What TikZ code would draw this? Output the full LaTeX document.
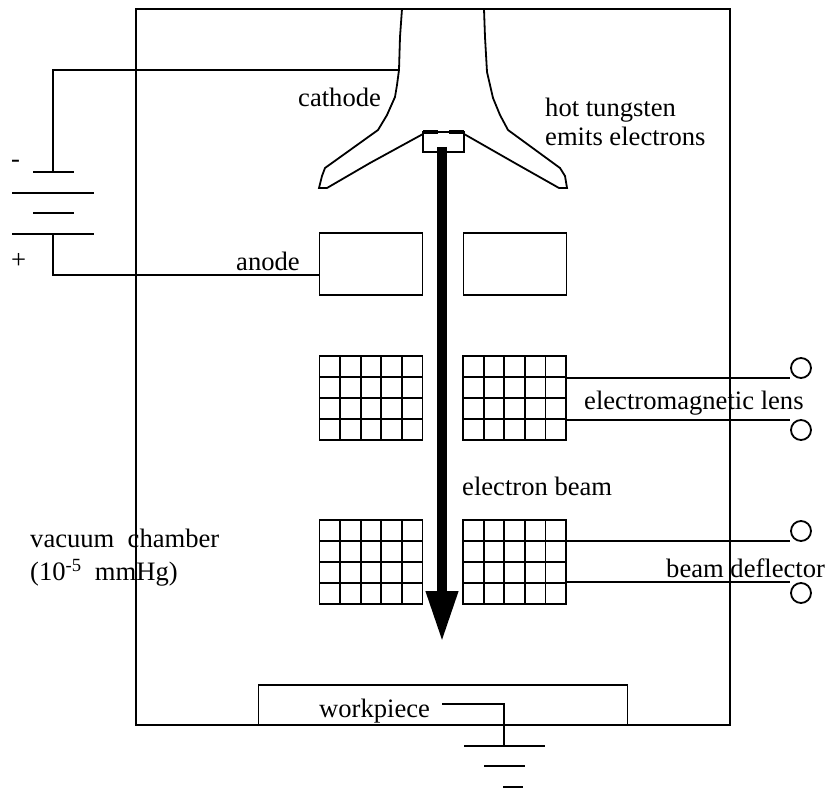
\documentclass[tikz,border=0pt]{standalone}
\usepackage{fontspec}
\setmainfont{Liberation Serif}
\usetikzlibrary{arrows.meta,calc}
\tikzset{
  wire/.style={line width=1.8pt},
  label/.style={anchor=west, inner sep=0pt, font=\fontsize{26.6}{29}\selectfont, align=left},
  boxpart/.style={draw, line width=1.8pt, inner sep=0pt, outer sep=0pt},
  coilbox/.style={boxpart, minimum width=103pt, minimum height=84pt},
  anodebox/.style={boxpart, minimum width=103pt, minimum height=62pt},
  terminal/.style={draw, circle, line width=1.8pt, inner sep=0pt, outer sep=0pt, minimum size=20pt},
  plate/.style={fill=black, inner sep=0pt, outer sep=0pt, minimum height=1.8pt}
}
\begin{document}
\begin{tikzpicture}[x=1pt,y=-1pt]
\useasboundingbox (0,0) rectangle (830,791);

% chamber and workpiece
\node[boxpart, minimum width=594pt, minimum height=716pt] (chamber) at (433,367) {};
\node[boxpart, minimum width=369pt, minimum height=40pt] (workpiece) at (443,705) {};

% cathode
\draw[wire] (402,9) -- (400,37) -- (399,70) -- (397,85) -- (395,97) -- (387,115) -- (378,130) -- (325,168) -- (322,176) -- (319,188) -- (327,188) -- (370,163) -- (423,134);
\draw[wire] (484,9) -- (485,37) -- (487,72) -- (490,85) -- (493,98) -- (500,115) -- (508,130) -- (560,168) -- (565,176) -- (567,188) -- (559,188) -- (513,162) -- (464,134);
\coordinate (cathodewire) at (399,70);
\node[boxpart, minimum width=41pt, minimum height=20pt] (filament) at (443.5,142) {};
\draw[line width=3.5pt] (filament.north west) -- ++(15,0);
\draw[line width=3.5pt] (filament.north east) -- ++(-15,0);

% anode
\node[anodebox] (anodeL) at (371,264) {};
\node[anodebox] (anodeR) at (515,264) {};
\coordinate (anodewire) at (320,275);

% coils
\foreach \name/\x/\y in {lensL/371/398,lensR/514.5/398,deflL/371/562,deflR/514.5/562}{
  \node[coilbox] (\name) at (\x,\y) {};
  \foreach \k in {1,...,4}{
    \draw[wire] ($(\name.north west)!\k/5!(\name.north east)$) -- ($(\name.south west)!\k/5!(\name.south east)$);
  }
  \foreach \k in {1,2,3}{
    \draw[wire] ($(\name.north west)!\k/4!(\name.south west)$) -- ($(\name.north east)!\k/4!(\name.south east)$);
  }
}

% terminals
\foreach \name/\y in {termA/368,termB/430,termC/531,termD/593}{
  \node[terminal] (\name) at (801,\y) {};
}
\foreach \name/\y in {endA/378,endB/420,endC/541,endD/582}{
  \coordinate (\name) at (790,\y);
}
\draw[wire] (lensR.east |- endA) -- (endA);
\draw[wire] (lensR.east |- endB) -- (endB);
\draw[wire] (deflR.east |- endC) -- (endC);
\draw[wire] (deflR.east |- endD) -- (endD);

% battery and ground
\foreach \name/\x/\y/\w in {batA/53/172/41,batB/53/193/82,batC/53/213/41,batD/53/234/82,gndA/504/746/81,gndB/504/766/41,gndC/513/787/20}{
  \node[plate, minimum width=\w pt] (\name) at (\x,\y) {};
}
\draw[wire] (batA.center) |- (cathodewire);
\draw[wire] (batD.center) |- (anodewire);
\coordinate (workwire) at (442,704);
\draw[wire] (workwire) -| (gndA.center);

% beam
\coordinate (beamtop) at (442,147);
\coordinate (beamtip) at (442,642);
\draw[line width=10pt, -{Triangle[length=51pt,width=30pt]}] (beamtop) -- (beamtip);

% labels
\node[label] (cathodetxt) at (298,97) {cathode};
\node[label] (hottxt) at (545,122) {hot tungsten\\emits electrons};
\node[label] (anodetxt) at (236,261) {anode};
\node[label] (lenstxt) at (584,403) {electromagnetic lens};
\node[label] (beamtxt) at (462,486) {electron beam};
\node[label] (defltxt) at (666,568) {beam deflector};
\node[label] (vacuumtxt) at (30,538) {vacuum\ \ chamber};
\node[label] (pressuretxt) at (30,573) {(10\textsuperscript{-5}\ \ mmHg)};
\node[label] (worktxt) at (319,711) {workpiece};
\node[label] (minustxt) at (11,164) {-};
\node[label] (plustxt) at (11,261) {+};
\end{tikzpicture}
\end{document}
